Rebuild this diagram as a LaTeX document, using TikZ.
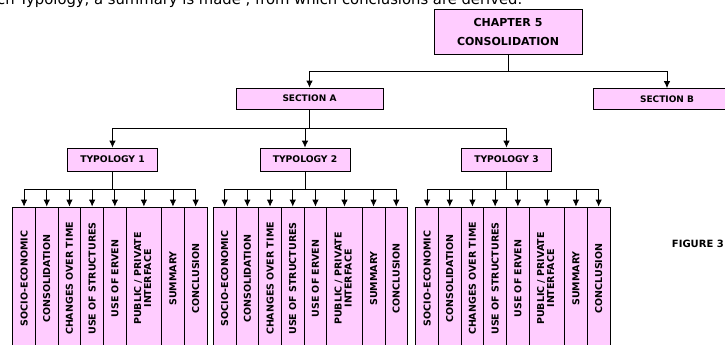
\documentclass[tikz,border=0pt]{standalone}
\usepackage{fontspec}
\setmainfont{DejaVu Sans}
\usetikzlibrary{arrows.meta}
\definecolor{boxpink}{RGB}{255,204,255}
\newcommand{\pubpriv}{\begin{tabular}{@{}c@{}}PUBLIC / PRIVATE\\[-1pt]INTERFACE\end{tabular}}
\begin{document}
\begin{tikzpicture}[x=1pt, y=-1pt, font=\bfseries]
    \tikzstyle{pinkbox} = [rectangle, draw, line width=0.8pt, fill=boxpink, inner sep=0pt]
    \tikzstyle{chapterbox} = [pinkbox, minimum width=148pt, minimum height=45pt, font=\fontsize{11}{12}\bfseries, align=center]
    \tikzstyle{sectionbox} = [pinkbox, minimum width=147pt, minimum height=21pt, font=\fontsize{9}{10}\bfseries]
    \tikzstyle{typbox} = [pinkbox, minimum width=90pt, minimum height=23pt, font=\fontsize{9.2}{10}\bfseries]
    \tikzstyle{topicbox} = [pinkbox, minimum height=143pt, font=\fontsize{9.5}{11}\bfseries]
    \tikzstyle{line} = [draw, line width=0.8pt, -{Latex[length=7pt,width=6.5pt]}]

    \useasboundingbox (0,0) rectangle (725,345);
    \clip (0,0) rectangle (725,345);

    % cut-off sentence above the chart
    \node [anchor=base west, inner sep=0pt, font=\fontsize{14.8}{16}\selectfont] (intro) at (-3,4.5)
        {ch Typology, a summary is made , from which conclusions are derived.};

    \node [chapterbox] (chap) at (508,31.5) {CHAPTER 5\\[7pt]CONSOLIDATION};
    \node [sectionbox] (secA) at (309.5,98.5) {SECTION A};
    \node [sectionbox] (secB) at (667,99) {SECTION B};
    \node [anchor=east, inner sep=0pt, font=\fontsize{10}{11}\bfseries] (fig) at (724,243.5) {FIGURE 3};

    \coordinate (chapbar) at (508,71);
    \coordinate (secbar) at (309.5,128);
    \draw [line] (chap) -- (chapbar) -| (secA);
    \draw [line] (chap) -- (chapbar) -| (secB);

    \foreach \g/\gx/\tx in {1/12.7/112.5, 2/213.3/305, 3/415.7/506.5} {
        \node [typbox] (typ\g) at (\tx,159.5) {TYPOLOGY \g};
        \draw [line] (secA) -- (secbar) -| (typ\g);
        \coordinate (bar\g) at (\tx,189);
        \foreach \k/\off/\w/\txt in {1/0/22.7/SOCIO-ECONOMIC, 2/22.7/22.7/CONSOLIDATION,
                3/45.4/22.7/CHANGES OVER TIME, 4/68.1/22.7/USE OF STRUCTURES,
                5/90.8/22.7/USE OF ERVEN, 6/113.5/35.4/\pubpriv,
                7/148.9/22.7/SUMMARY, 8/171.6/22.7/CONCLUSION} {
            \node [topicbox, minimum width=\w pt] (topic\g-\k) at ({\gx+\off+\w/2},278.5)
                {\rotatebox{90}{\txt}};
            \draw [line] (typ\g) -- (bar\g) -| (topic\g-\k);
        }
    }
\end{tikzpicture}
\end{document}
